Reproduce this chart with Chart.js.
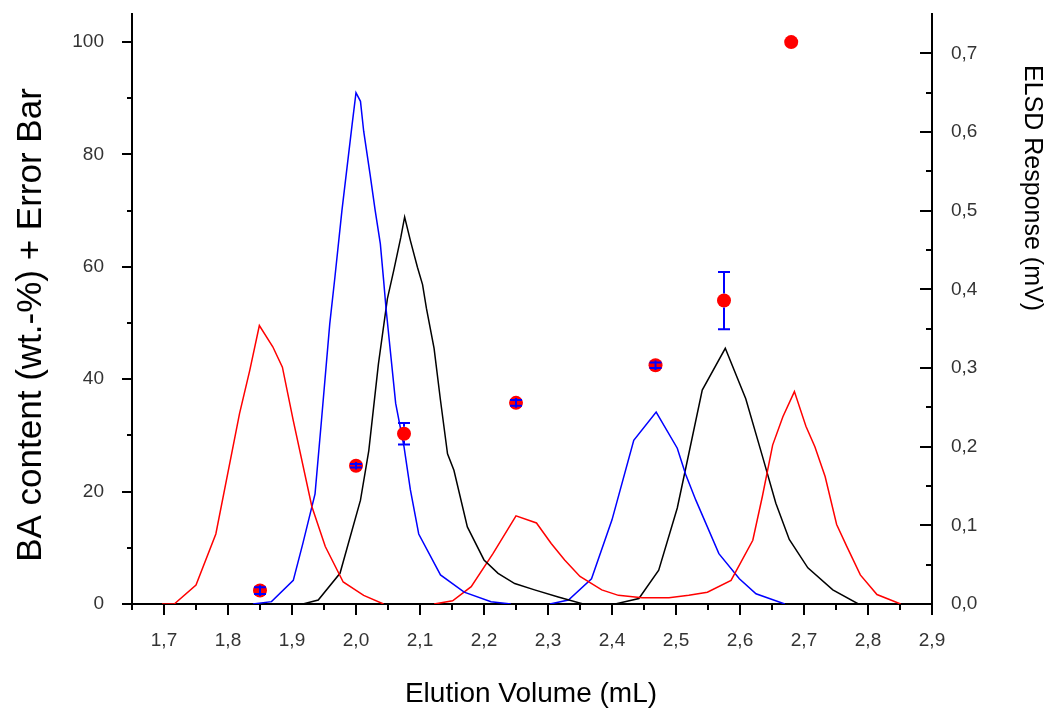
<!DOCTYPE html>
<html>
<head>
<meta charset="utf-8">
<script src="https://cdn.jsdelivr.net/npm/chart.js@4.4.0/dist/chart.umd.min.js"></script>
<style>
  html, body { margin: 0; padding: 0; background: #fff; }
</style>
</head>
<body>
<canvas id="chartElution" width="1050" height="715"></canvas>
<script>
// BA content (left axis) with error bars
const baVolume = [1.85, 2.0, 2.075, 2.25, 2.468, 2.575, 2.68];
const baContent = [2.4, 24.6, 30.3, 35.8, 42.5, 54.0, 100];
const baError = [0.6, 0.3, 1.9, 0.5, 0.5, 5.1, 0];

// ELSD traces (right axis), [volume, response]
const elsdRed1 = [[1.697,0],[1.716,0],[1.75,0.024],[1.781,0.089],[1.818,0.242],[1.834,0.297],[1.849,0.354],[1.870,0.327],[1.885,0.301],[1.902,0.233],[1.931,0.124],[1.952,0.073],[1.980,0.028],[2.012,0.011],[2.043,0]];
const elsdBlue1 = [[1.839,0],[1.868,0.003],[1.902,0.030],[1.917,0.077],[1.936,0.140],[1.946,0.233],[1.959,0.356],[1.967,0.415],[1.978,0.500],[1.986,0.555],[1.994,0.610],[2.0,0.650],[2.007,0.639],[2.012,0.601],[2.022,0.546],[2.030,0.500],[2.038,0.458],[2.043,0.413],[2.047,0.375],[2.062,0.255],[2.075,0.200],[2.085,0.145],[2.098,0.089],[2.132,0.037],[2.169,0.015],[2.211,0.003],[2.242,0]];
const elsdBlack1 = [[1.917,0],[1.941,0.005],[1.975,0.039],[2.007,0.132],[2.020,0.195],[2.035,0.305],[2.049,0.388],[2.059,0.424],[2.070,0.466],[2.076,0.492],[2.085,0.462],[2.096,0.428],[2.104,0.406],[2.110,0.376],[2.122,0.325],[2.132,0.259],[2.143,0.191],[2.153,0.170],[2.174,0.098],[2.200,0.056],[2.222,0.039],[2.248,0.026],[2.279,0.018],[2.316,0.009],[2.355,0]];
const elsdRed2 = [[2.122,0],[2.151,0.004],[2.180,0.022],[2.214,0.064],[2.250,0.112],[2.282,0.103],[2.305,0.077],[2.326,0.056],[2.350,0.035],[2.384,0.018],[2.410,0.011],[2.447,0.008],[2.489,0.008],[2.520,0.011],[2.549,0.015],[2.586,0.030],[2.620,0.081],[2.635,0.137],[2.651,0.202],[2.667,0.238],[2.685,0.270],[2.703,0.226],[2.717,0.200],[2.733,0.162],[2.751,0.101],[2.767,0.073],[2.788,0.037],[2.814,0.012],[2.851,0]];
const elsdBlue2 = [[2.303,0],[2.332,0.005],[2.368,0.032],[2.400,0.107],[2.434,0.208],[2.469,0.244],[2.502,0.198],[2.515,0.165],[2.531,0.132],[2.567,0.064],[2.599,0.032],[2.625,0.013],[2.670,0]];
const elsdBlack2 = [[2.405,0],[2.442,0.007],[2.473,0.043],[2.502,0.122],[2.520,0.191],[2.541,0.272],[2.577,0.325],[2.609,0.261],[2.635,0.188],[2.656,0.128],[2.677,0.082],[2.706,0.046],[2.745,0.018],[2.785,0]];

// tick labels
const volumeTicks = [1.7, 1.8, 1.9, 2.0, 2.1, 2.2, 2.3, 2.4, 2.5, 2.6, 2.7, 2.8, 2.9];
const contentTicks = [0, 20, 40, 60, 80, 100];
const responseTicks = [0, 0.1, 0.2, 0.3, 0.4, 0.5, 0.6, 0.7];

const FONT = '"Liberation Sans", Arial, sans-serif';

function stepList(min, max, step) {
    const out = [];
    for (let v = min; v <= max + step / 1000; v += step) out.push(Math.round(v * 1000) / 1000);
    return out;
}
function isMajor(list, v) {
    return list.some(t => Math.abs(t - v) < 1e-6);
}
function comma(v) {
    return v.toFixed(1).replace('.', ',');
}

const xy = arr => arr.map(p => ({ x: p[0], y: p[1] }));
function trace(label, arr, color) {
    return {
        label: label,
        data: xy(arr),
        yAxisID: 'y2',
        showLine: true,
        borderColor: color,
        borderWidth: 1.5,
        pointRadius: 0,
        tension: 0
    };
}

const tickMarks = {
    id: 'tickMarks',
    afterDraw(chart) {
        const ctx = chart.ctx;
        const a = chart.chartArea;
        ctx.save();
        ctx.strokeStyle = '#000';
        ctx.lineWidth = 2;
        const sx = chart.scales.x;
        stepList(1.65, 2.9, 0.05).forEach(v => {
            const px = Math.round(sx.getPixelForValue(v));
            const len = isMajor(volumeTicks, v) ? 11 : 6;
            ctx.beginPath(); ctx.moveTo(px, a.bottom); ctx.lineTo(px, a.bottom + len); ctx.stroke();
        });
        const sy = chart.scales.y;
        stepList(0, 100, 10).forEach(v => {
            const py = Math.round(sy.getPixelForValue(v));
            const len = isMajor(contentTicks, v) ? 10 : 5;
            ctx.beginPath(); ctx.moveTo(a.left, py); ctx.lineTo(a.left - len, py); ctx.stroke();
        });
        const sy2 = chart.scales.y2;
        stepList(0, 0.7, 0.05).forEach(v => {
            const py = Math.round(sy2.getPixelForValue(v));
            const len = isMajor(responseTicks, v) ? 12 : 6;
            ctx.beginPath(); ctx.moveTo(a.right, py); ctx.lineTo(a.right - len, py); ctx.stroke();
        });
        ctx.restore();
    }
};

const errorBars = {
    id: 'errorBars',
    afterDatasetsDraw(chart) {
        const ctx = chart.ctx;
        const meta = chart.getDatasetMeta(0);
        const sy = chart.scales.y;
        ctx.save();
        ctx.strokeStyle = '#0000ff';
        ctx.lineWidth = 2;
        meta.data.forEach((pt, i) => {
            if (!baError[i]) return;
            const top = sy.getPixelForValue(baContent[i] + baError[i]);
            const bot = sy.getPixelForValue(baContent[i] - baError[i]);
            const r = 7;
            ctx.beginPath();
            ctx.moveTo(pt.x - 6, top); ctx.lineTo(pt.x + 6, top);
            ctx.moveTo(pt.x - 6, bot); ctx.lineTo(pt.x + 6, bot);
            if (pt.y - top > r) {
                ctx.moveTo(pt.x, top); ctx.lineTo(pt.x, pt.y - r);
                ctx.moveTo(pt.x, pt.y + r); ctx.lineTo(pt.x, bot);
            } else {
                ctx.moveTo(pt.x, top - 2); ctx.lineTo(pt.x, bot + 2);
            }
            ctx.stroke();
        });
        ctx.restore();
    }
};

const axisTitles = {
    id: 'axisTitles',
    afterDraw(chart) {
        const ctx = chart.ctx;
        ctx.save();
        ctx.fillStyle = '#000';
        ctx.textAlign = 'center';
        ctx.textBaseline = 'middle';
        ctx.font = '28px ' + FONT;
        ctx.fillText('Elution Volume (mL)', 531, 694);
        ctx.restore();

        ctx.save();
        ctx.fillStyle = '#000';
        ctx.textAlign = 'center';
        ctx.textBaseline = 'middle';
        ctx.font = '35px ' + FONT;
        ctx.translate(31, 325);
        ctx.rotate(-Math.PI / 2);
        ctx.fillText('BA content (wt.-%) + Error Bar', 0, 0);
        ctx.restore();

        ctx.save();
        ctx.fillStyle = '#000';
        ctx.textAlign = 'center';
        ctx.textBaseline = 'middle';
        ctx.font = '25px ' + FONT;
        ctx.translate(1032, 188);
        ctx.rotate(Math.PI / 2);
        ctx.fillText('ELSD Response (mV)', 0, 0);
        ctx.restore();
    }
};

const ctx1 = document.getElementById('chartElution').getContext('2d');
const chartElution = new Chart(ctx1, {
    type: 'scatter',
    data: {
        datasets: [
            {
                label: 'BA content',
                data: baVolume.map((v, i) => ({ x: v, y: baContent[i] })),
                yAxisID: 'y',
                pointRadius: 7,
                pointBackgroundColor: '#ff0000',
                pointBorderWidth: 0,
                showLine: false
            },
            trace('Fraction 1', elsdRed1, '#ff0000'),
            trace('Fraction 2', elsdBlue1, '#0000ff'),
            trace('Fraction 3', elsdBlack1, '#000000'),
            trace('Fraction 4', elsdRed2, '#ff0000'),
            trace('Fraction 5', elsdBlue2, '#0000ff'),
            trace('Fraction 6', elsdBlack2, '#000000')
        ]
    },
    options: {
        responsive: false,
        animation: false,
        layout: { padding: { top: 14, left: 0, right: 0, bottom: 0 } },
        plugins: {
            legend: { display: false },
            tooltip: { enabled: false }
        },
        scales: {
            x: {
                type: 'linear',
                min: 1.65,
                max: 2.9,
                afterFit(scale) { scale.height = 111; scale.paddingLeft = 0; scale.paddingRight = 0; },
                afterBuildTicks(scale) { scale.ticks = stepList(1.65, 2.9, 0.05).map(v => ({ value: v })); },
                grid: { display: false },
                border: { display: true, color: '#000', width: 2 },
                ticks: {
                    autoSkip: false,
                    maxRotation: 0,
                    padding: 17,
                    color: '#333',
                    font: { family: FONT, size: 19 },
                    callback: v => isMajor(volumeTicks, v) ? comma(v) : ''
                }
            },
            y: {
                type: 'linear',
                position: 'left',
                min: 0,
                max: 105,
                afterFit(scale) { scale.width = 132; scale.paddingTop = 0; scale.paddingBottom = 0; },
                afterBuildTicks(scale) { scale.ticks = stepList(0, 100, 10).map(v => ({ value: v })); },
                grid: { display: false },
                border: { display: true, color: '#000', width: 2 },
                ticks: {
                    autoSkip: false,
                    padding: 20,
                    color: '#333',
                    font: { family: FONT, size: 19 },
                    callback: v => isMajor(contentTicks, v) ? String(v) : ''
                }
            },
            y2: {
                type: 'linear',
                position: 'right',
                min: 0,
                max: 0.75,
                afterFit(scale) { scale.width = 118; scale.paddingTop = 0; scale.paddingBottom = 0; },
                afterBuildTicks(scale) { scale.ticks = stepList(0, 0.7, 0.05).map(v => ({ value: v })); },
                grid: { display: false },
                border: { display: true, color: '#000', width: 2 },
                ticks: {
                    autoSkip: false,
                    padding: 11,
                    color: '#333',
                    font: { family: FONT, size: 19 },
                    callback: v => isMajor(responseTicks, v) ? comma(v) : ''
                }
            }
        }
    },
    plugins: [tickMarks, errorBars, axisTitles]
});
</script>
</body>
</html>
